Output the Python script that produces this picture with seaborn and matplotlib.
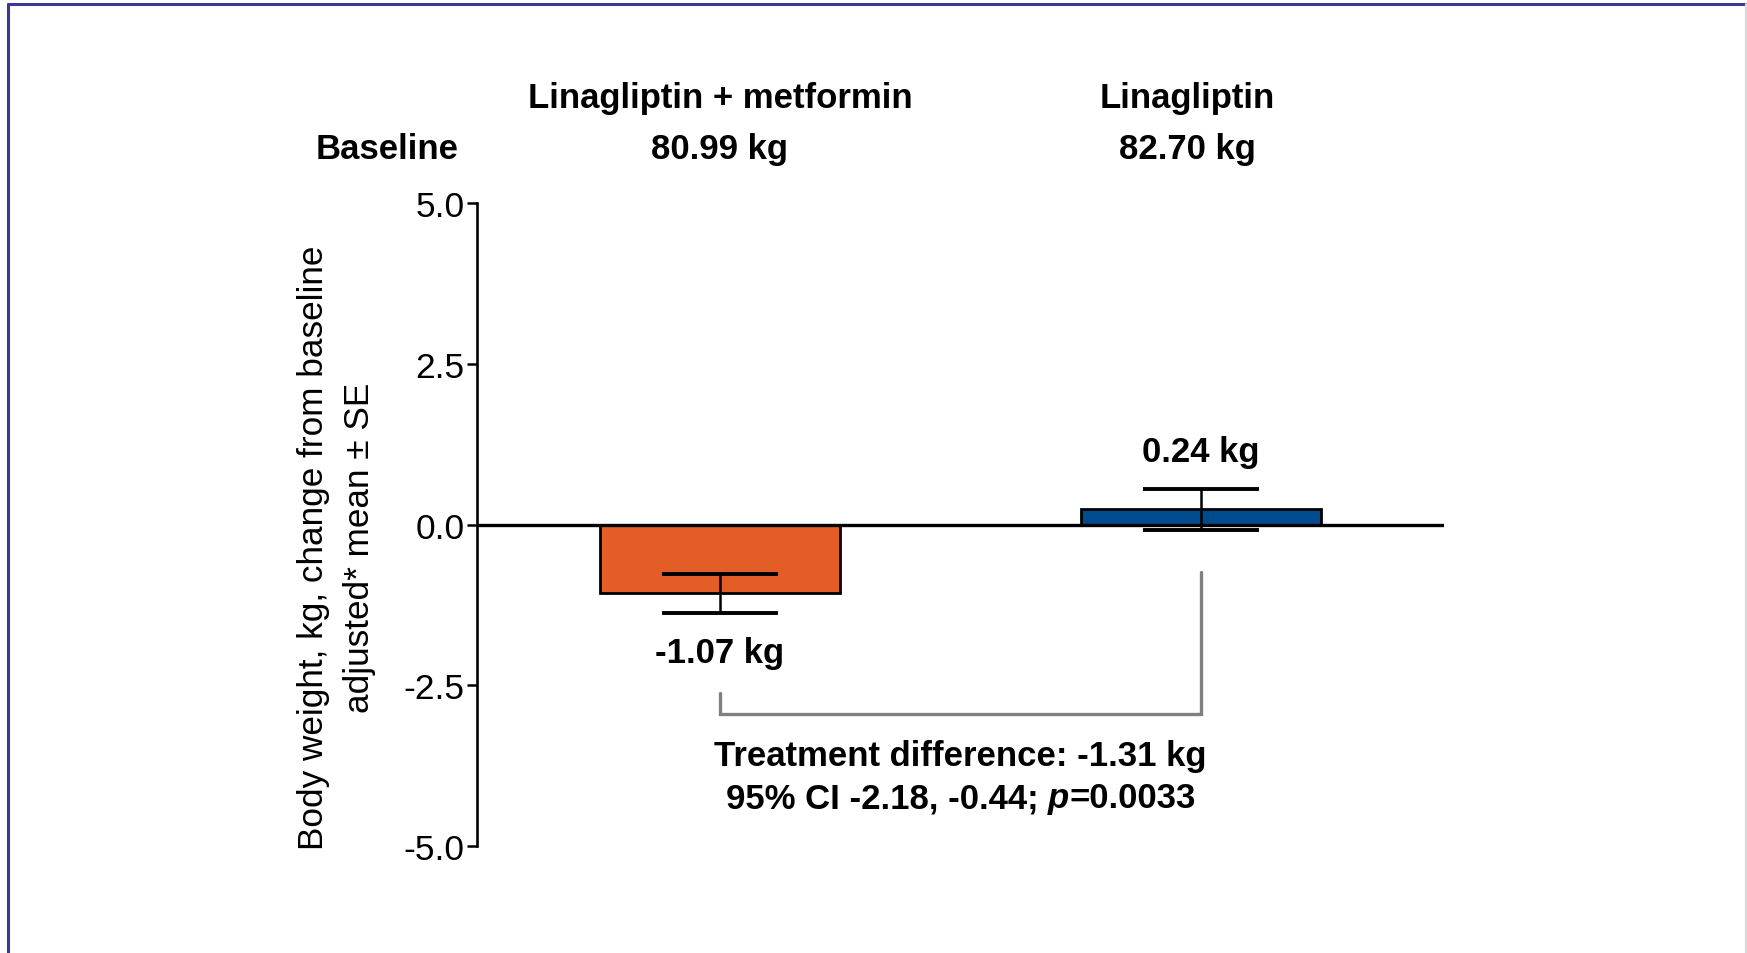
import matplotlib
matplotlib.use("Agg")
import matplotlib.pyplot as plt
import seaborn as sns
import pandas as pd
from matplotlib.offsetbox import TextArea, HPacker, AnnotationBbox
from matplotlib.lines import Line2D
import matplotlib.transforms as mtransforms

# ---- data ----
groups = ["Linagliptin + metformin", "Linagliptin"]
baseline = ["80.99 kg", "82.70 kg"]
change = [-1.07, 0.24]
se = [0.30, 0.32]
bar_colors = ["#E35D26", "#004B8D"]
value_labels = ["-1.07 kg", "0.24 kg"]
yticks = [-5.0, -2.5, 0.0, 2.5, 5.0]
diff_line1 = "Treatment difference: -1.31 kg"
diff_ci = "95% CI -2.18, -0.44; "
diff_p = "0.0033"

sns.set_theme(style="white")
plt.rcParams["font.family"] = ["Liberation Sans", "DejaVu Sans"]

fig = plt.figure(figsize=(17.47, 9.54), dpi=100)
ax = fig.add_axes([0.273, 0.112, 0.5536, 0.674])

df = pd.DataFrame({"group": groups, "change": change})
sns.barplot(data=df, x="group", y="change", hue="group", order=groups,
            palette=dict(zip(groups, bar_colors)), width=0.5,
            edgecolor="black", linewidth=2.0, legend=False, ax=ax,
            errorbar=None, saturation=1)

ax.errorbar(range(len(groups)), change, yerr=se, fmt="none", ecolor="black",
            elinewidth=1.8, capsize=42, capthick=2.8, zorder=5)

ax.axhline(0, color="black", lw=2.4, zorder=6)

ax.set_xlim(-0.505, 1.505)
ax.set_ylim(-5, 5)
ax.set_yticks(yticks)
ax.set_yticklabels([f"{v:.1f}" for v in yticks])
ax.tick_params(axis="y", labelsize=25.5, length=7, width=1.8, direction="out",
               left=True, color="black", pad=2, labelcolor="black")
ax.set_xticks([])
ax.set_xlabel("")
ax.set_ylabel("")
for s in ["top", "right", "bottom"]:
    ax.spines[s].set_visible(False)
ax.spines["left"].set_color("black")
ax.spines["left"].set_linewidth(1.9)

# value labels
ax.text(0, -1.99, value_labels[0], ha="center", va="center", fontsize=25,
        fontweight="bold", color="black")
ax.text(1, 1.13, value_labels[1], ha="center", va="center", fontsize=25,
        fontweight="bold", color="black")

# bracket
ax.plot([0, 0, 1, 1], [-2.62, -2.95, -2.95, -0.73], color="#808080", lw=2.4,
        solid_joinstyle="miter", zorder=3)

# treatment difference text
ax.text(0.5, -3.59, diff_line1, ha="center", va="center", fontsize=25,
        fontweight="bold", color="black")
bold = dict(fontsize=25, fontweight="bold", color="black",
            family="Liberation Sans")
pack = HPacker(children=[TextArea(diff_ci, textprops=bold),
                         TextArea("p", textprops=dict(bold, style="italic")),
                         TextArea("=" + diff_p, textprops=bold)],
               sep=0, pad=0, align="baseline")
ab = AnnotationBbox(pack, (0.5, -4.25), xycoords="data", frameon=False,
                    box_alignment=(0.5, 0.5), pad=0)
ax.add_artist(ab)

# header
trans = mtransforms.blended_transform_factory(ax.transData, fig.transFigure)
head_x = [0, 0.972]
for hx, g, b in zip(head_x, groups, baseline):
    fig.text(hx, 0.897, g, transform=trans, ha="center", va="center",
             fontsize=25, fontweight="bold", color="black")
    fig.text(hx, 0.843, b, transform=trans, ha="center", va="center",
             fontsize=25, fontweight="bold", color="black")
fig.text(0.2215, 0.843, "Baseline", ha="center", va="center", fontsize=25,
         fontweight="bold", color="black")

# y label
fig.text(0.1925, 0.4255,
         "Body weight, kg, change from baseline\nadjusted* mean \u00b1 SE",
         rotation=90, ha="center", va="center", multialignment="center",
         fontsize=25.3, linespacing=1.5, color="black")

# frame border
fig.add_artist(Line2D([0.0046, 0.0046], [0, 0.995], transform=fig.transFigure,
                      color="#3B3796", lw=2.2))
fig.add_artist(Line2D([0.0046, 1], [0.995, 0.995], transform=fig.transFigure,
                      color="#3B3796", lw=2.2))
fig.add_artist(Line2D([0.9994, 0.9994], [0, 0.995], transform=fig.transFigure,
                      color="#D8D8D8", lw=1.5))

fig.savefig("out.png", dpi=100, facecolor="white")
